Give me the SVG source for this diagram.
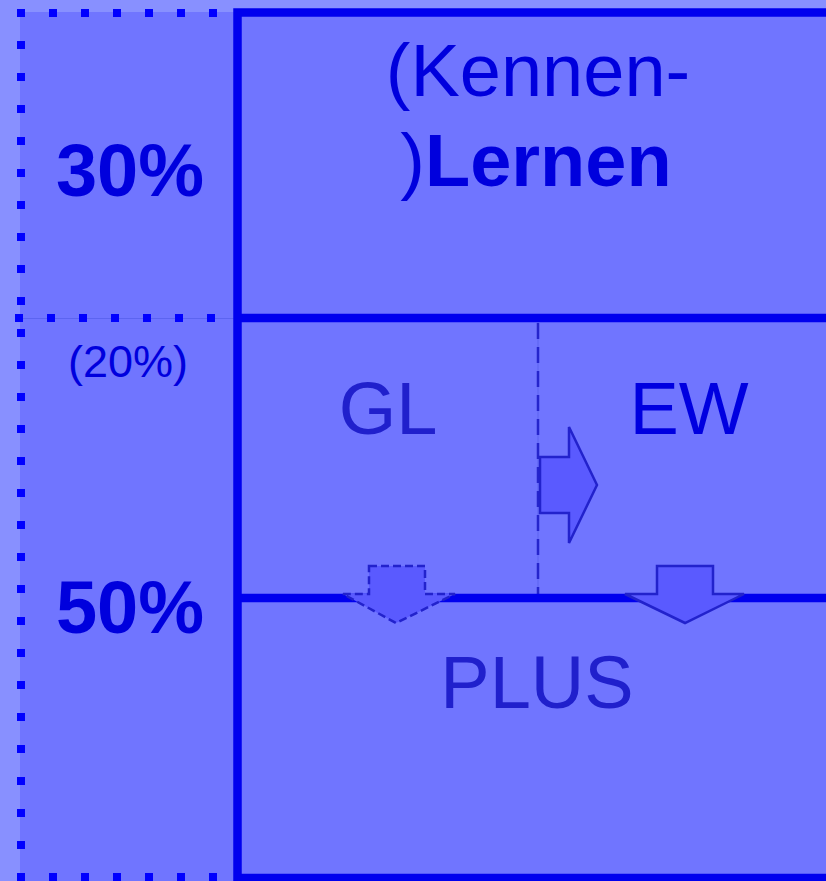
<svg xmlns="http://www.w3.org/2000/svg" width="826" height="881" viewBox="0 0 826 881">
<style>
.dots{fill:none;stroke:#0000ff;stroke-width:8;stroke-dasharray:8 24}
.thick{fill:none;stroke:#0000ee;stroke-width:8.5}
.arrow{fill:#5a5aff;stroke:#2222cc;stroke-width:2.5;stroke-linejoin:miter}
.t{font-family:"Liberation Sans",Arial,sans-serif;text-anchor:middle}
.big{font-size:74px}
.b{font-weight:bold}
.c1{fill:#0000dd}
.c2{fill:#2020cc}
.c3{fill:#0000e0}
</style>
<rect x="0" y="0" width="826" height="881" fill="#8890ff"/>
<g id="left-panel">
<rect x="20" y="12" width="220" height="869" fill="#7075ff"/>
<line x1="20" y1="318.5" x2="236" y2="318.5" stroke="#5c64f0" stroke-width="1.2"/>
<line class="dots" x1="17" y1="13" x2="233" y2="13"/>
<line class="dots" x1="21" y1="9" x2="21" y2="881"/>
<line class="dots" x1="15" y1="318" x2="233" y2="318"/>
<line class="dots" x1="17" y1="877" x2="233" y2="877"/>
<text class="t big b c1" x="130" y="196">30%</text>
<text class="t big b c1" x="130" y="633">50%</text>
<text class="t c1" x="128" y="377" font-size="45">(20%)</text>
</g>
<g id="right-box">
<rect x="237.5" y="12.5" width="620" height="865.5" fill="#7075ff"/>
</g>
<g id="connectors">
<line x1="538" y1="322" x2="538" y2="594" stroke="#5c64f0" stroke-width="1"/>
<line x1="538" y1="323" x2="538" y2="594" stroke="#2525cc" stroke-width="2.5" stroke-dasharray="16 8"/>
<line class="thick" x1="237" y1="318" x2="830" y2="318"/>
<line class="thick" x1="237" y1="598" x2="830" y2="598"/>
<rect class="thick" x="237.5" y="12.5" width="620" height="865.5"/>
<path class="arrow" d="M540,457 L569,457 L569,427 L597,485 L569,543 L569,513 L540,513 Z"/>
<path class="arrow" d="M369,566 L425,566 L425,594 L455,594 L396,623 L343,594 L369,594 Z" stroke-dasharray="8 4"/>
<path class="arrow" d="M657,566 L713,566 L713,594 L744,594 L685,623 L625,594 L657,594 Z"/>
</g>
<g id="top-node">
<text class="t big c1" x="538" y="96">(Kennen-</text>
<text class="t big c1" x="536" y="186">)<tspan class="b">Lernen</tspan></text>
</g>
<g id="gl-node"><text class="t big c2" x="388" y="434">GL</text></g>
<g id="ew-node"><text class="t big c3" x="689" y="434">EW</text></g>
<g id="plus-node"><text class="t big c2" x="537" y="708">PLUS</text></g>
</svg>
